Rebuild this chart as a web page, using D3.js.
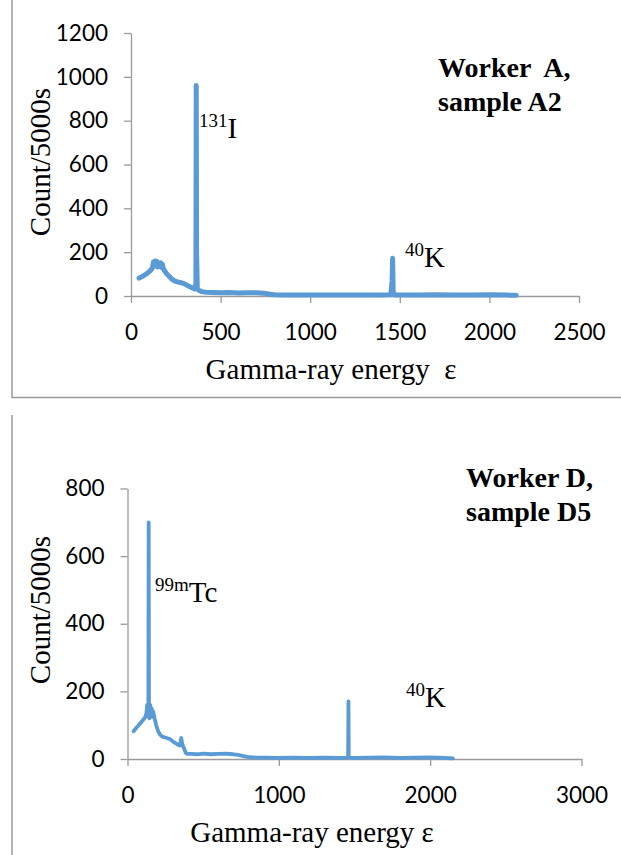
<!DOCTYPE html>
<html>
<head>
<meta charset="utf-8">
<script src="https://cdn.jsdelivr.net/npm/d3@7"></script>
<style>
  body { margin: 0; background: #fff; }
</style>
</head>
<body>
<div id="d3-panel"></div>
<script>
// Worker A, sample A2
var energyA = [45, 60, 75, 90, 100, 110, 115, 120, 125, 130, 135, 140, 145, 150, 155, 160, 165, 170, 175, 180,
	190, 200, 215, 230, 245, 260, 275, 290, 305, 320, 335, 350, 358, 362, 364, 366, 370, 380, 395, 420,
	460, 500, 550, 600, 650, 700, 740, 770, 800, 850, 900, 1000, 1100, 1200, 1300, 1400, 1450, 1457, 1460, 1463,
	1470, 1500, 1600, 1700, 1800, 1900, 2000, 2100, 2150];
var countA = [82, 88, 95, 103, 110, 118, 122, 130, 155, 135, 160, 140, 158, 132, 150, 138, 152, 130, 145, 125,
	112, 100, 88, 76, 68, 64, 62, 58, 52, 46, 40, 34, 32, 60, 960, 200, 35, 25, 20, 17,
	16, 15, 16, 14, 15, 15, 13, 9, 6, 5, 4, 4, 5, 4, 5, 5, 6, 70, 172, 20,
	5, 5, 4, 6, 5, 5, 6, 4, 3];

// Worker D, sample D5
var energyD = [40, 55, 70, 85, 100, 115, 125, 130, 135, 138, 140, 142, 145, 150, 155, 160, 165, 170, 180, 190,
	200, 215, 230, 245, 260, 275, 290, 305, 320, 335, 345, 350, 355, 360, 365, 375, 385, 395, 420, 460,
	500, 550, 600, 650, 700, 730, 760, 790, 850, 900, 1000, 1100, 1200, 1300, 1400, 1450, 1458, 1460, 1462, 1470,
	1500, 1600, 1700, 1800, 1900, 2000, 2100, 2150];
var countD = [82, 90, 98, 106, 114, 122, 135, 160, 125, 165, 700, 150, 120, 160, 128, 150, 125, 140, 118, 100,
	85, 72, 66, 64, 62, 60, 56, 50, 46, 42, 40, 50, 62, 48, 40, 30, 18, 15, 15, 14,
	16, 14, 15, 16, 14, 12, 9, 6, 4, 4, 3, 4, 3, 4, 3, 4, 8, 170, 6, 4,
	3, 4, 5, 3, 4, 5, 3, 2];

// tick labels
var xTicksA = [0, 500, 1000, 1500, 2000, 2500];
var yTicksA = [0, 200, 400, 600, 800, 1000, 1200];
var xTicksD = [0, 1000, 2000, 3000];
var yTicksD = [0, 200, 400, 600, 800];

var width = 621;
var height = 855;
var blue = '#5b9bd5';
var grey = '#9a9a9a';
var serif = '"Liberation Serif", "Times New Roman", serif';
var sans = 'Lato, "Open Sans", sans-serif';

var svg = d3.select('#d3-panel')
	.append('svg')
	.attr('width', width)
	.attr('height', height);

// 外框线
svg.append('path')
	.attr('d', 'M12,0 V397.5 H621 M12,415 V855')
	.attr('fill', 'none')
	.attr('stroke', grey)
	.attr('stroke-width', 1.5);

function drawChart(o) {
	var data = o.energy.map(function(e, i) { return [e, o.count[i]]; });

	var xScale = d3.scaleLinear()
		.domain([0, d3.max(o.xTicks)])
		.range(o.xRange);
	var yScale = d3.scaleLinear()
		.domain([0, d3.max(o.yTicks)])
		.range(o.yRange);

	var axisX = d3.axisBottom(xScale)
		.tickValues(o.xTicks)
		.tickFormat(d3.format('d'))
		.tickSize(7)
		.tickSizeOuter(0)
		.tickPadding(21);
	var axisY = d3.axisLeft(yScale)
		.tickValues(o.yTicks)
		.tickFormat(d3.format('d'))
		.tickSize(7)
		.tickSizeOuter(0)
		.tickPadding(16);

	var gx = svg.append('g')
		.attr('transform', 'translate(0,' + o.yRange[0] + ')')
		.call(axisX);
	var gy = svg.append('g')
		.attr('transform', 'translate(' + o.xRange[0] + ',0)')
		.call(axisY);

	[gx, gy].forEach(function(g) {
		g.selectAll('path, line').attr('stroke', grey).attr('stroke-width', 1.3);
		g.selectAll('text')
			.attr('fill', '#000')
			.style('font-family', sans)
			.style('font-size', '22.5px');
	});

	// 谱线
	var line = d3.line()
		.x(function(d) { return xScale(d[0]); })
		.y(function(d) { return yScale(d[1]); });

	svg.append('path')
		.datum(data)
		.attr('d', line)
		.attr('fill', 'none')
		.attr('stroke', blue)
		.attr('stroke-width', o.lineWidth)
		.attr('stroke-linejoin', 'round')
		.attr('stroke-linecap', 'round');

	// 坐标轴标题
	svg.append('text')
		.attr('x', o.xTitle[0])
		.attr('y', o.xTitle[1])
		.attr('text-anchor', 'middle')
		.style('font-family', serif)
		.style('font-size', '29px')
		.style('white-space', 'pre')
		.text(o.xTitleText);

	svg.append('text')
		.attr('transform', 'translate(' + o.yTitle[0] + ',' + o.yTitle[1] + ') rotate(-90)')
		.attr('text-anchor', 'middle')
		.style('font-family', serif)
		.style('font-size', '29px')
		.text('Count/5000s');

	// 样品说明
	var t = svg.append('text')
		.style('font-family', serif)
		.style('font-size', '28px')
		.style('font-weight', 'bold')
		.style('white-space', 'pre');
	o.note.forEach(function(s, i) {
		t.append('tspan')
			.attr('x', o.notePos[0])
			.attr('y', o.notePos[1] + i * 34)
			.text(s);
	});

	// 核素标注
	o.peaks.forEach(function(p) {
		var lbl = svg.append('text')
			.attr('x', p.x)
			.attr('y', p.y)
			.style('font-family', serif)
			.style('font-size', '29px');
		lbl.append('tspan')
			.attr('dy', -11)
			.style('font-size', '19px')
			.text(p.sup);
		lbl.append('tspan')
			.attr('dy', 11)
			.text(p.main);
	});
}

drawChart({
	energy: energyA, count: countA,
	xTicks: xTicksA, yTicks: yTicksA,
	xRange: [131, 579], yRange: [296, 33],
	lineWidth: 5,
	xTitle: [331, 379], xTitleText: 'Gamma-ray energy  ε',
	yTitle: [50, 162],
	note: ['Worker  A,', 'sample A2'], notePos: [438, 77],
	peaks: [{ x: 199, y: 138, sup: '131', main: 'I' }, { x: 405, y: 267, sup: '40', main: 'K' }]
});

drawChart({
	energy: energyD, count: countD,
	xTicks: xTicksD, yTicks: yTicksD,
	xRange: [127.5, 581.5], yRange: [759, 488.5],
	lineWidth: 3.8,
	xTitle: [312, 842], xTitleText: 'Gamma-ray energy ε',
	yTitle: [50, 610],
	note: ['Worker D,', 'sample D5'], notePos: [466, 487],
	peaks: [{ x: 155, y: 602, sup: '99m', main: 'Tc' }, { x: 406, y: 707, sup: '40', main: 'K' }]
});
</script>
</body>
</html>
